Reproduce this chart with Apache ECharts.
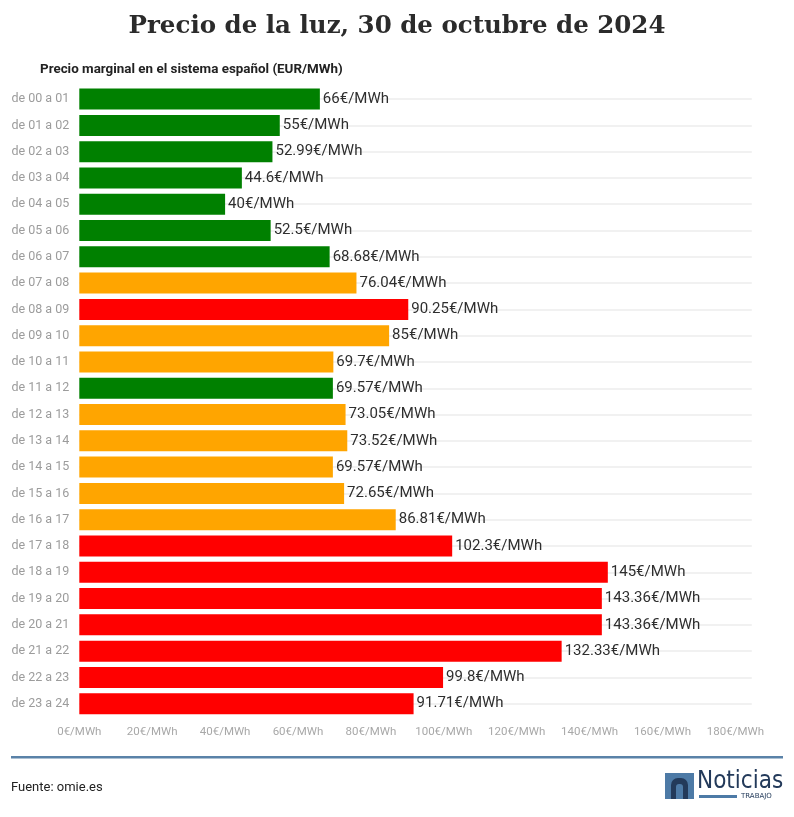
<!DOCTYPE html>
<html>
<head>
<meta charset="utf-8">
<script src="https://cdn.jsdelivr.net/npm/echarts@6/dist/echarts.min.js"></script>
<style>
html,body{margin:0;padding:0;background:#fff;}
#chart{width:794px;height:817px;}
</style>
</head>
<body>
<div id="chart"></div>
<script>
const horas = ['de 00 a 01','de 01 a 02','de 02 a 03','de 03 a 04','de 04 a 05','de 05 a 06','de 06 a 07','de 07 a 08','de 08 a 09','de 09 a 10','de 10 a 11','de 11 a 12','de 12 a 13','de 13 a 14','de 14 a 15','de 15 a 16','de 16 a 17','de 17 a 18','de 18 a 19','de 19 a 20','de 20 a 21','de 21 a 22','de 22 a 23','de 23 a 24'];
const precios = [66,55,52.99,44.6,40,52.5,68.68,76.04,90.25,85,69.7,69.57,73.05,73.52,69.57,72.65,86.81,102.3,145,143.36,143.36,132.33,99.8,91.71];
const niveles = ['bajo','bajo','bajo','bajo','bajo','bajo','bajo','medio','alto','medio','medio','bajo','medio','medio','medio','medio','medio','alto','alto','alto','alto','alto','alto','alto'];
const colorNivel = {bajo:'#008000', medio:'#FFA500', alto:'#FF0000'};
const ejeMin = 0, ejeMax = 184.5, ejePaso = 20;
const unidad = '€/MWh';
const titulo = 'Precio de la luz, 30 de octubre de 2024';
const subtitulo = 'Precio marginal en el sistema español (EUR/MWh)';
const fuente = 'Fuente: omie.es';

const chart = echarts.init(document.getElementById('chart'), null, {renderer:'canvas'});
const sans = 'Roboto, "Open Sans", sans-serif';

chart.setOption({
  backgroundColor:'#ffffff',
  animation:false,
  grid:{left:79.3, top:99.1, bottom:113.3, right:42.2, containLabel:false},
  xAxis:{
    type:'value', min:ejeMin, max:ejeMax, interval:ejePaso,
    axisLine:{show:false}, axisTick:{show:false}, splitLine:{show:false},
    axisLabel:{color:'#a8a8a8', fontFamily:sans, fontSize:11.5, margin:22,
      showMaxLabel:false, formatter:v=>v+unidad}
  },
  yAxis:{
    type:'category', data:horas, inverse:true, boundaryGap:false,
    axisLine:{show:false}, axisTick:{show:false},
    splitLine:{show:true, lineStyle:{color:'#ececec', width:1.5}},
    axisLabel:{color:'#9c9c9c', fontFamily:sans, fontSize:12.5, margin:10}
  },
  series:[{
    type:'bar', clip:false, barWidth:21,
    data:precios.map((v,i)=>({value:v, itemStyle:{color:colorNivel[niveles[i]]}})),
    label:{show:true, position:'right', distance:3, color:'#2e2e2e', fontFamily:sans, fontSize:15,
      formatter:p=>p.value+unidad}
  }],
  graphic:[
    {type:'text', left:'center', top:14, style:{text:titulo, font:'bold 24.5px "DejaVu Serif", serif', fill:'#2b2b2b'}},
    {type:'text', left:40, top:63, style:{text:subtitulo, font:'bold 13.4px Roboto, sans-serif', fill:'#222'}},
    {type:'rect', shape:{x:11, y:756, width:772, height:2.5}, style:{fill:'#5a82a8'}},
    {type:'text', left:11, top:781, style:{text:fuente, font:'13px Roboto, sans-serif', fill:'#222'}},
    {type:'rect', shape:{x:665, y:773, width:29, height:26}, style:{fill:'#4d7aa6'}},
    {type:'rect', shape:{x:671, y:778, width:17, height:21, r:[7,7,0,0]}, style:{fill:'#233a5a'}},
    {type:'rect', shape:{x:676, y:784, width:7, height:15, r:[3,3,0,0]}, style:{fill:'#4d7aa6'}},
    {type:'text', x:697, y:770, style:{text:'Noticias', font:'24px "DejaVu Sans Condensed", "DejaVu Sans", sans-serif', fill:'#233a5a'}},
    {type:'rect', shape:{x:699, y:795, width:38, height:3}, style:{fill:'#4d7aa6'}},
    {type:'text', x:741, y:792.5, style:{text:'TRABAJO', font:'7px "DejaVu Sans", sans-serif', fill:'#233a5a'}}
  ]
});
</script>
</body>
</html>
